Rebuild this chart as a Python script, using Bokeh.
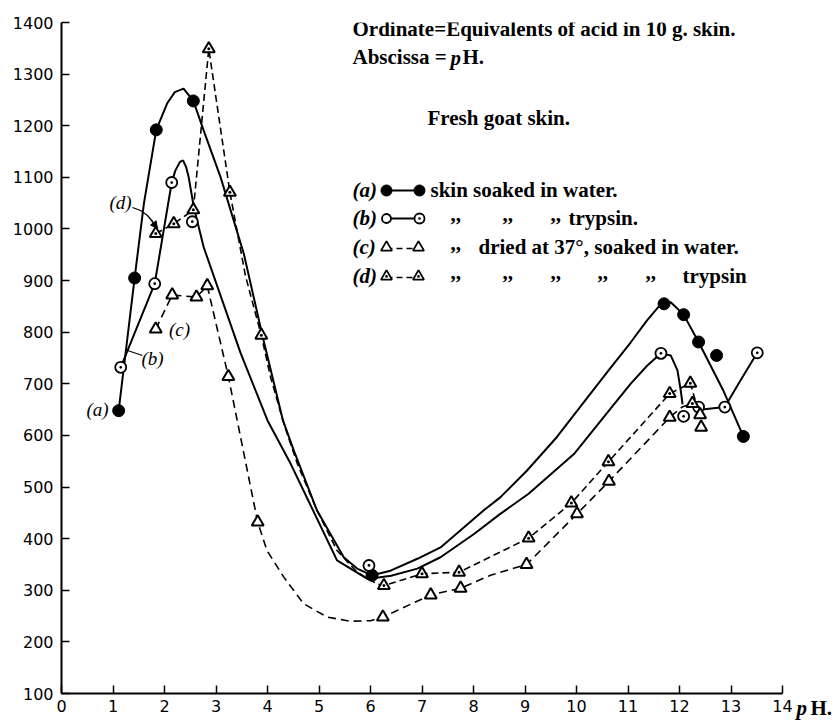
from bokeh.plotting import figure
from bokeh.models import Range1d, Arrow, NormalHead, FixedTicker, LinearAxis
from bokeh.embed import file_html
from bokeh.resources import INLINE
from bokeh.core.properties import value

# ---------------- data ----------------
x_ticks = list(range(0, 15))
y_ticks = list(range(100, 1500, 100))

# (a) skin soaked in water  (filled circles)
a_ph = [1.11, 1.42, 1.84, 2.56, 6.03, 11.70, 12.08, 12.37, 12.72, 13.24]
a_val = [648, 905, 1192, 1248, 329, 855, 834, 781, 755, 598]
# (b) soaked in trypsin (dotted circles)
b_ph = [1.15, 1.81, 2.14, 2.54, 5.97, 11.64, 12.08, 12.37, 12.88, 13.51]
b_val = [732, 894, 1090, 1014, 348, 759, 637, 655, 655, 760]
# (c) dried at 37 deg, soaked in water (open triangles)
c_ph = [1.83, 2.15, 2.62, 2.83, 3.24, 3.81, 6.24, 7.17, 7.75, 9.03, 10.01, 10.63, 11.81, 12.40, 12.42]
c_val = [806, 872, 868, 890, 714, 432, 248, 291, 304, 350, 448, 511, 635, 640, 616]
# (d) dried at 37 deg, soaked in trypsin (dotted triangles)
d_ph = [1.83, 2.18, 2.56, 2.86, 3.27, 3.88, 6.26, 7.00, 7.72, 9.07, 9.90, 10.62, 11.81, 12.21, 12.25]
d_val = [991, 1010, 1037, 1349, 1071, 794, 309, 332, 335, 401, 469, 549, 681, 701, 662]

# hand-drawn curves through the points
a_curve_ph = [1.11, 1.42, 1.60, 1.84, 2.05, 2.20, 2.37, 2.56, 2.76, 3.09, 3.54, 3.90, 4.30, 4.51, 4.96,
              5.48, 5.74, 6.03, 6.39, 6.91, 7.36, 8.20, 8.52, 9.04, 9.62, 10.17, 10.60, 11.05, 11.37,
              11.60, 11.83, 12.08, 12.37, 12.86, 13.24]
a_curve_val = [648, 905, 1049, 1192, 1243, 1265, 1272, 1248, 1191, 1100, 952, 794, 629, 571, 455,
               364, 342, 329, 338, 361, 383, 455, 480, 532, 597, 668, 723, 780, 823,
               850, 858, 834, 781, 685, 598]
b_curve1_ph = [1.15, 1.81, 2.14, 2.21, 2.30, 2.36, 2.42, 2.47, 2.57, 2.76, 3.48, 4.00, 4.45, 5.35, 5.94,
               6.40, 6.91, 7.36, 8.01, 8.52, 9.07, 9.95, 10.79, 11.05, 11.37, 11.64, 11.83, 11.96, 12.02, 12.06]
b_curve1_val = [732, 894, 1090, 1113, 1130, 1133, 1120, 1100, 1042, 965, 759, 629, 545, 358, 322,
                328, 342, 364, 409, 448, 487, 564, 668, 700, 735, 759, 755, 726, 690, 660]
b_curve2_ph = [12.37, 12.44, 12.88, 13.18, 13.51]
b_curve2_val = [652, 650, 655, 706, 760]
c_curve_ph = [1.83, 2.15, 2.62, 2.83, 3.24, 3.81, 3.99, 4.32, 4.70, 5.16, 5.61, 6.00, 6.24, 7.17, 7.75,
              8.33, 9.03, 10.01, 10.63, 11.81, 12.05, 12.25]
c_curve_val = [806, 872, 868, 890, 714, 432, 377, 325, 274, 248, 240, 241, 248, 291, 304,
               329, 350, 448, 511, 635, 655, 662]
d_curve_ph = [1.83, 2.18, 2.56, 2.86, 3.27, 3.57, 3.88, 4.06, 4.32, 4.58, 4.96, 5.35, 5.74, 6.13, 6.26,
              7.00, 7.72, 9.07, 9.90, 10.62, 11.81, 12.21, 12.30, 12.37]
d_curve_val = [991, 1010, 1037, 1349, 1071, 910, 794, 713, 622, 545, 455, 377, 335, 312, 309,
               332, 335, 401, 469, 549, 681, 701, 670, 651]


# ---------------- helpers for annotation placement (picture pixels -> data) ----------------
def X(px):
    return (px - 61) / 51.5


def Y(py):
    return 100 + (693 - py) / 0.51615


SERIF = value("Liberation Serif")

p = figure(width=837, height=720, x_range=Range1d(0, 14), y_range=Range1d(100, 1400),
           output_backend="svg", toolbar_location=None,
           min_border_left=61, min_border_right=55, min_border_top=22, min_border_bottom=27)
p.outline_line_color = None
p.xgrid.visible = False
p.ygrid.visible = False
p.background_fill_color = "white"
p.border_fill_color = "white"

for ax in (p.xaxis[0], p.yaxis[0]):
    ax.axis_line_width = 2
    ax.axis_line_color = "black"
    ax.major_tick_in = 8
    ax.major_tick_out = 0
    ax.major_tick_line_width = 1.5
    ax.major_tick_line_color = "black"
    ax.minor_tick_line_color = None
    ax.major_label_text_font = "DejaVu Sans"
    ax.major_label_text_font_size = "16px"
    ax.major_label_text_color = "black"
p.xaxis[0].ticker = FixedTicker(ticks=x_ticks)
p.yaxis[0].ticker = FixedTicker(ticks=y_ticks)
p.xaxis[0].major_label_standoff = 6
p.yaxis[0].major_label_standoff = 8

# "pH." unit label to the right of the abscissa, carried by two bare right-hand axes
unit_tick = [100]
ax_p = LinearAxis(ticker=FixedTicker(ticks=unit_tick), major_label_overrides={100: "\np"},
                  axis_line_color=None, major_tick_line_color=None, minor_tick_line_color=None,
                  major_tick_in=0, major_tick_out=0, major_label_standoff=14,
                  major_label_text_font="Liberation Serif", major_label_text_font_style="bold italic",
                  major_label_text_font_size="21px", major_label_text_color="black")
ax_h = LinearAxis(ticker=FixedTicker(ticks=unit_tick), major_label_overrides={100: "\nH."},
                  axis_line_color=None, major_tick_line_color=None, minor_tick_line_color=None,
                  major_tick_in=0, major_tick_out=0, major_label_standoff=0,
                  major_label_text_font="Liberation Serif", major_label_text_font_style="bold",
                  major_label_text_font_size="21px", major_label_text_color="black")
p.add_layout(ax_p, "right")
p.add_layout(ax_h, "right")

# ---------------- curves ----------------
p.line(a_curve_ph, a_curve_val, line_color="black", line_width=2)
p.line(b_curve1_ph, b_curve1_val, line_color="black", line_width=2)
p.line(b_curve2_ph, b_curve2_val, line_color="black", line_width=2)
p.line(c_curve_ph, c_curve_val, line_color="black", line_width=1.6, line_dash="8 5")
p.line(d_curve_ph, d_curve_val, line_color="black", line_width=1.6, line_dash="7 4")

# ---------------- markers ----------------
p.scatter(a_ph, a_val, marker="circle", size=12, fill_color="black", line_color="black")
p.scatter(b_ph, b_val, marker="circle_dot", size=11, fill_color="white", line_color="black", line_width=1.8)
p.scatter(c_ph, c_val, marker="triangle", size=12, fill_color="white", line_color="black", line_width=2)
p.scatter(d_ph, d_val, marker="triangle_dot", size=12, fill_color="white", line_color="black", line_width=2)

# ---------------- curve labels ----------------
p.text(x=[X(97), X(152), X(179), X(120)], y=[Y(409), Y(358), Y(329), Y(202)],
       text=["(a)", "(b)", "(c)", "(d)"], text_font=SERIF, text_font_style="italic",
       text_font_size="19px", text_align="center", text_baseline="middle", text_color="black")
p.line([X(127), X(142)], [Y(350), Y(355)], line_color="black", line_width=1.3)
p.line([X(132), X(140), X(147), X(152)], [Y(207), Y(210), Y(215), Y(221)], line_color="black", line_width=1.3)
p.add_layout(Arrow(end=NormalHead(size=7, fill_color="black", line_color="black"),
                   x_start=X(151), y_start=Y(220), x_end=X(157), y_end=Y(228),
                   line_color="black", line_width=1.3))

# ---------------- explanatory text ----------------
bold = dict(text_font=SERIF, text_font_style="bold", text_font_size="21px",
            text_baseline="middle", text_align="left", text_color="black")
p.text(x=[X(352)], y=[Y(29)], text=["Ordinate=Equivalents of acid in 10 g. skin."], **bold)
p.text(x=[X(352)], y=[Y(57)], text=["Abscissa ="], **bold)
p.text(x=[X(450)], y=[Y(58)], text=["p"], text_font=SERIF, text_font_style="bold italic",
       text_font_size="21px", text_baseline="middle", text_align="left", text_color="black")
p.text(x=[X(462)], y=[Y(57)], text=["H."], **bold)
p.text(x=[X(427)], y=[Y(118)], text=["Fresh goat skin."], **bold)

rows_y = [190, 218, 247, 276]
p.text(x=[X(352)] * 4, y=[Y(v) for v in rows_y], text=["(a)", "(b)", "(c)", "(d)"],
       text_font=SERIF, text_font_style="bold italic", text_font_size="21px",
       text_baseline="middle", text_align="left", text_color="black")
# legend samples
p.line([X(386), X(419)], [Y(190), Y(190)], line_color="black", line_width=2)
p.scatter([X(386), X(419)], [Y(190)] * 2, marker="circle", size=11, fill_color="black", line_color="black")
p.line([X(386), X(419)], [Y(218), Y(218)], line_color="black", line_width=2)
p.scatter([X(386)], [Y(218)], marker="circle", size=9, fill_color="white", line_color="black", line_width=1.8)
p.scatter([X(419)], [Y(218)], marker="circle_dot", size=10, fill_color="white", line_color="black", line_width=1.8)
p.line([X(386), X(418)], [Y(248), Y(248)], line_color="black", line_width=1.6, line_dash="6 4")
p.scatter([X(386), X(418)], [Y(247)] * 2, marker="triangle", size=11, fill_color="white", line_color="black", line_width=1.8)
p.line([X(386), X(418)], [Y(277), Y(277)], line_color="black", line_width=1.6, line_dash="6 4")
p.scatter([X(386), X(418)], [Y(276)] * 2, marker="triangle_dot", size=11, fill_color="white", line_color="black", line_width=1.8)

p.text(x=[X(430)], y=[Y(190)], text=["skin soaked in water."], **bold)
p.text(x=[X(450), X(502), X(550), X(450), X(450), X(502), X(550), X(597), X(645)],
       y=[Y(214)] * 3 + [Y(243)] + [Y(272)] * 5, text=[",,"] * 9, **bold)
p.text(x=[X(568)], y=[Y(218)], text=["trypsin."], **bold)
p.text(x=[X(478)], y=[Y(247)], text=["dried at 37°, soaked in water."], **bold)
p.text(x=[X(682)], y=[Y(276)], text=["trypsin"], **bold)

open("out.html", "w").write(file_html(p, INLINE))
